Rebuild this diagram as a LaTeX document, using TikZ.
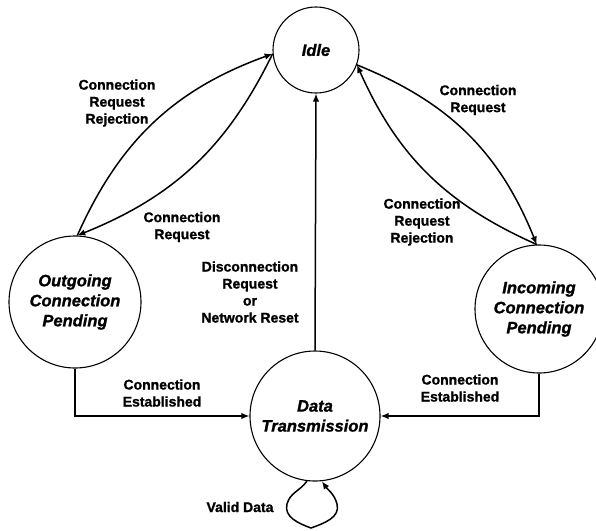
\documentclass[tikz,border=0pt]{standalone}
\usepackage{fontspec}
\setmainfont{Liberation Sans}[BoldFeatures={FakeBold=1.2},BoldItalicFeatures={FakeBold=1.2}]
\usetikzlibrary{arrows.meta}
\begin{document}
\begin{tikzpicture}[x=1pt,y=1pt,
  state/.style={draw,circle,line width=1.1pt,inner sep=0pt,align=center,
    font=\fontsize{16.5}{20}\selectfont\bfseries\itshape},
  lab/.style={align=center,inner sep=0pt,font=\fontsize{14}{17}\selectfont\bfseries},
  arr/.style={line width=1.5pt,-{Latex[length=8pt,width=6.5pt]}}]
\useasboundingbox (0,0) rectangle (596,-530);
\fill[white] (0,0) rectangle (596,-530);
\node[state,minimum size=86pt] (idle) at (316,-50) {Idle};
\node[state,minimum size=132pt] (out) at (75,-302) {Outgoing\\Connection\\Pending};
\node[state,minimum size=130pt] (dt) at (315,-416) {Data\\Transmission};
\node[state,minimum size=128pt] (inc) at (539,-309) {Incoming\\Connection\\Pending};

\draw[arr] (out.88) to[bend left=23] (idle.185);
\draw[arr] (idle.185) to[bend left=21] (out.88);
\draw[arr] (idle.-20) to[bend left=23] (inc.92);
\draw[arr] (inc.92) to[bend left=21] (idle.-20);
\draw[arr] (dt.north) -- (idle.south);
\draw[arr] (out.south) |- (dt.west);
\draw[arr] (inc.south) |- (dt.east);

\coordinate (loopL) at (287,-504);
\coordinate (loopB) at (311,-528);
\coordinate (loopR) at (337,-504);
\draw[arr] (dt.-97) to[out=-125,in=75] (loopL) to[out=-105,in=160] (loopB)
  to[out=20,in=-75] (loopR) to[out=105,in=-55] (dt.-84);

\node[lab] (l1) at (117,-103) {Connection\\Request\\Rejection};
\node[lab] (l2) at (182,-227) {Connection\\Request};
\node[lab] (l3) at (478,-100) {Connection\\Request};
\node[lab] (l4) at (422,-222) {Connection\\Request\\Rejection};
\node[lab] (l5) at (250,-292) {Disconnection\\Request\\or\\Network Reset};
\node[lab] (l6) at (162,-393) {Connection\\Established};
\node[lab] (l7) at (460,-388) {Connection\\Established};
\node[lab] (l8) at (240,-507) {Valid Data};
\end{tikzpicture}
\end{document}
